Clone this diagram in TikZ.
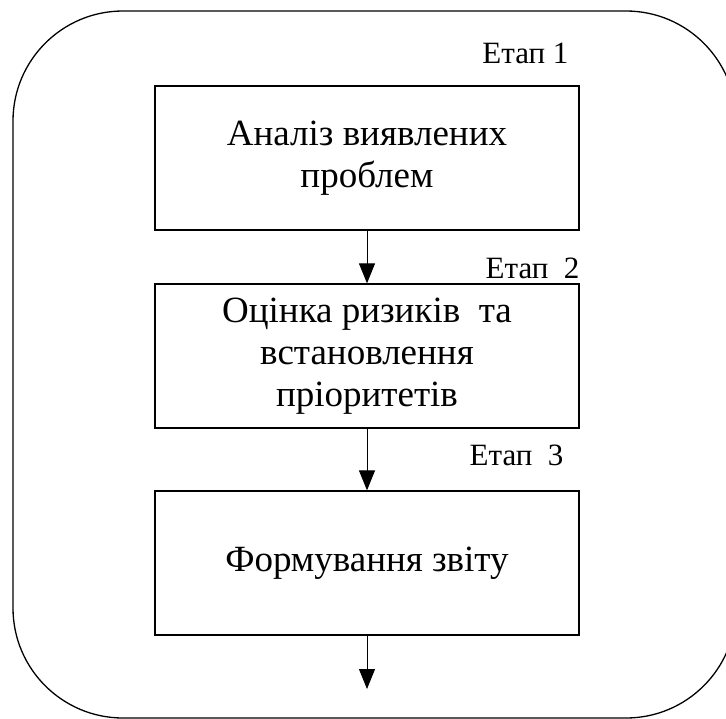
\documentclass[tikz,border=0pt]{standalone}
\usepackage{fontspec}
\setmainfont{Liberation Serif}
\usetikzlibrary{arrows.meta}

\begin{document}
\begin{tikzpicture}[x=1pt,y=-1pt,
  stagebox/.style={shape=rectangle,draw=black,line width=1.3pt,minimum width=424pt,minimum height=144pt,align=center,font=\fontsize{37}{42}\selectfont},
  stagelabel/.style={anchor=base east,font=\fontsize{31}{36}\selectfont},
  flow/.style={-{Triangle[length=20pt,width=16pt]},draw=black,line width=1pt}]
\useasboundingbox (0,0) rectangle (726,718);
\draw[line width=1.3pt,rounded corners=110pt] (13,11) rectangle (736,718);

\node[stagebox] (0) at (367,158) {Аналіз виявлених\\проблем};
\node[stagebox] (1) at (367,356) {Оцінка ризиків~ та\\встановлення\\пріоритетів};
\node[stagebox] (2) at (367,563) {Формування звіту};
\coordinate (3) at (367,689);

\node[stagelabel] (l0) at (572,63) {Етап 1};
\node[stagelabel] (l1) at (583,278) {Етап~~2};
\node[stagelabel] (l2) at (567,465) {Етап~~3};

\path [flow] (0) edge node {} (1);
\path [flow] (1) edge node {} (2);
\path [flow] (2) edge node {} (3);
\end{tikzpicture}
\end{document}
